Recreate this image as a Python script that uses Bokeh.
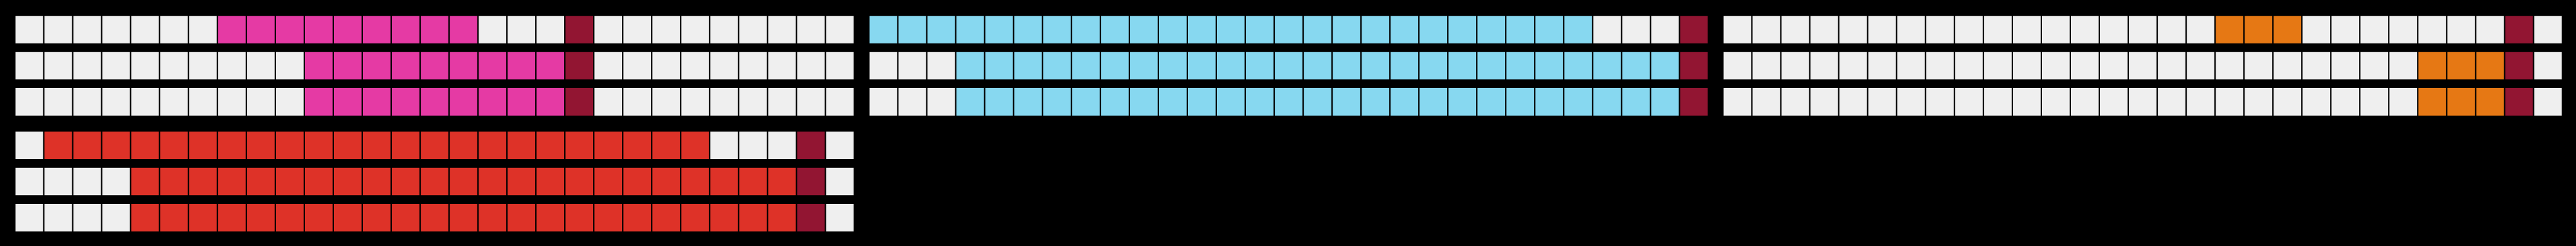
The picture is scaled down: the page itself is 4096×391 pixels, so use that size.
from bokeh.plotting import figure
from bokeh.layouts import gridplot
from bokeh.models import ColumnDataSource, Range1d
from bokeh.embed import file_html
from bokeh.resources import INLINE

# ---- data ----
n_cells = 29
n_rows = 3
panel_colors = ["#e53aa4", "#87d8f0", "#e67814", "#de3228"]
bar_start = [[7, 10, 10], [0, 3, 3], [17, 24, 24], [1, 4, 4]]
bar_len = [[9, 9, 9], [25, 25, 25], [3, 3, 3], [23, 23, 23]]
marker_col = [19, 28, 27, 27]
empty_color = "#efefef"
marker_color = "#921532"

# ---- layout sizes (window px) ----
FIG_W = 1358
BORDER_L, BORDER_R = 23, 0
CELL_W = 0.953   # fraction of column pitch
CELL_H = 0.763   # fraction of row pitch


def make_panel(k, height, border_top, border_bottom):
    xs, ys, colors = [], [], []
    for r in range(n_rows):
        s, n = bar_start[k][r], bar_len[k][r]
        for c in range(n_cells):
            if c == marker_col[k]:
                col = marker_color
            elif s <= c < s + n:
                col = panel_colors[k]
            else:
                col = empty_color
            xs.append(c)
            ys.append(r)
            colors.append(col)
    src = ColumnDataSource(dict(x=xs, y=ys, color=colors))
    p = figure(width=FIG_W, height=height, output_backend="svg",
               toolbar_location=None,
               x_range=Range1d(-0.5, n_cells - 0.5),
               y_range=Range1d(n_rows - 0.5, -0.5),
               x_axis_location=None, y_axis_location=None,
               min_border_left=BORDER_L, min_border_right=BORDER_R,
               min_border_top=border_top, min_border_bottom=border_bottom)
    p.rect(x="x", y="y", width=CELL_W, height=CELL_H, fill_color="color",
           line_color=None, source=src)
    p.background_fill_color = "#000000"
    p.border_fill_color = "#000000"
    p.outline_line_color = None
    p.grid.visible = False
    return p


p1 = make_panel(0, 190, 18, 0)
p2 = make_panel(1, 190, 18, 0)
p3 = make_panel(2, 190, 18, 0)
p4 = make_panel(3, 201, 12, 17)

p = gridplot([[p1, p2, p3], [p4, None, None]], toolbar_location=None)

html = file_html(p, INLINE)
html = html.replace("</head>", "<style>html,body{background:#000000;}</style></head>", 1)
open("out.html", "w").write(html)
